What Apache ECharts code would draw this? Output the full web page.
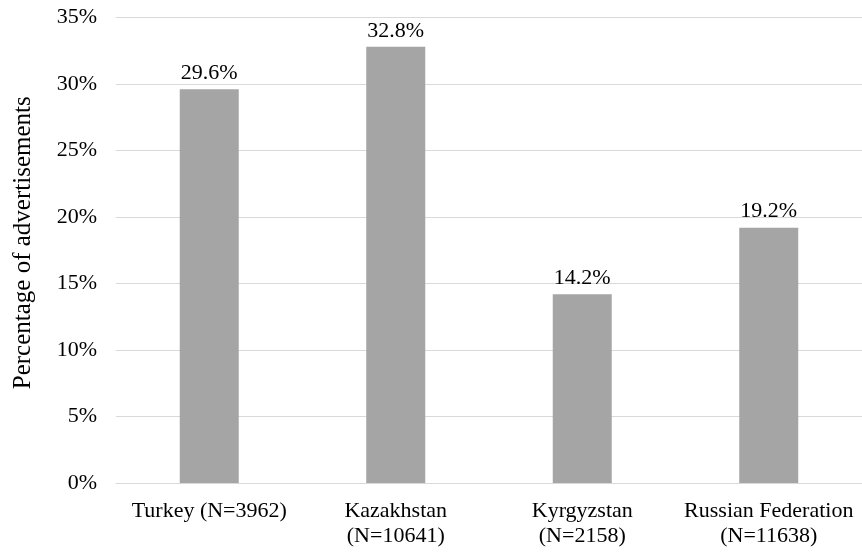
<!DOCTYPE html>
<html>
<head>
<meta charset="utf-8">
<script src="https://cdn.jsdelivr.net/npm/echarts@6/dist/echarts.min.js"></script>
<style>html,body{margin:0;padding:0;background:#fff}#c{width:862px;height:553px}</style>
</head>
<body>
<div id="c"></div>
<script>
const categories = ['Turkey (N=3962)', 'Kazakhstan\n(N=10641)', 'Kyrgyzstan\n(N=2158)', 'Russian Federation\n(N=11638)'];
const values = [29.6, 32.8, 14.2, 19.2];
const yTitle = 'Percentage of advertisements';
const yMin = 0, yMax = 35, yStep = 5;

const font = '"Liberation Serif", "Times New Roman", serif';
const chart = echarts.init(document.getElementById('c'), null, {renderer: 'canvas'});
chart.setOption({
  animation: false,
  backgroundColor: '#fff',
  grid: {left: 116, top: 17.5, width: 754, height: 465.5, containLabel: false},
  xAxis: {
    type: 'category',
    data: categories,
    axisLine: {show: true, lineStyle: {color: '#d9d9d9', width: 1}},
    axisTick: {show: false},
    axisLabel: {color: '#000', fontFamily: font, fontSize: 22, lineHeight: 25, margin: 16, interval: 0}
  },
  yAxis: {
    type: 'value',
    min: yMin, max: yMax, interval: yStep,
    name: yTitle,
    nameLocation: 'middle',
    nameGap: 80,
    nameTextStyle: {color: '#000', fontFamily: font, fontSize: 25, padding: [0, 0, 0, 15]},
    axisLine: {show: false},
    axisTick: {show: false},
    splitLine: {lineStyle: {color: '#d9d9d9', width: 1}},
    axisLabel: {color: '#000', fontFamily: font, fontSize: 22, margin: 19, formatter: v => v + '%'}
  },
  series: [{
    type: 'bar',
    data: values,
    barWidth: 59,
    itemStyle: {color: '#a5a5a5'},
    label: {show: true, position: 'top', distance: 5, color: '#000', fontFamily: font, fontSize: 22,
      formatter: p => p.value.toFixed(1) + '%'}
  }]
});
</script>
</body>
</html>
